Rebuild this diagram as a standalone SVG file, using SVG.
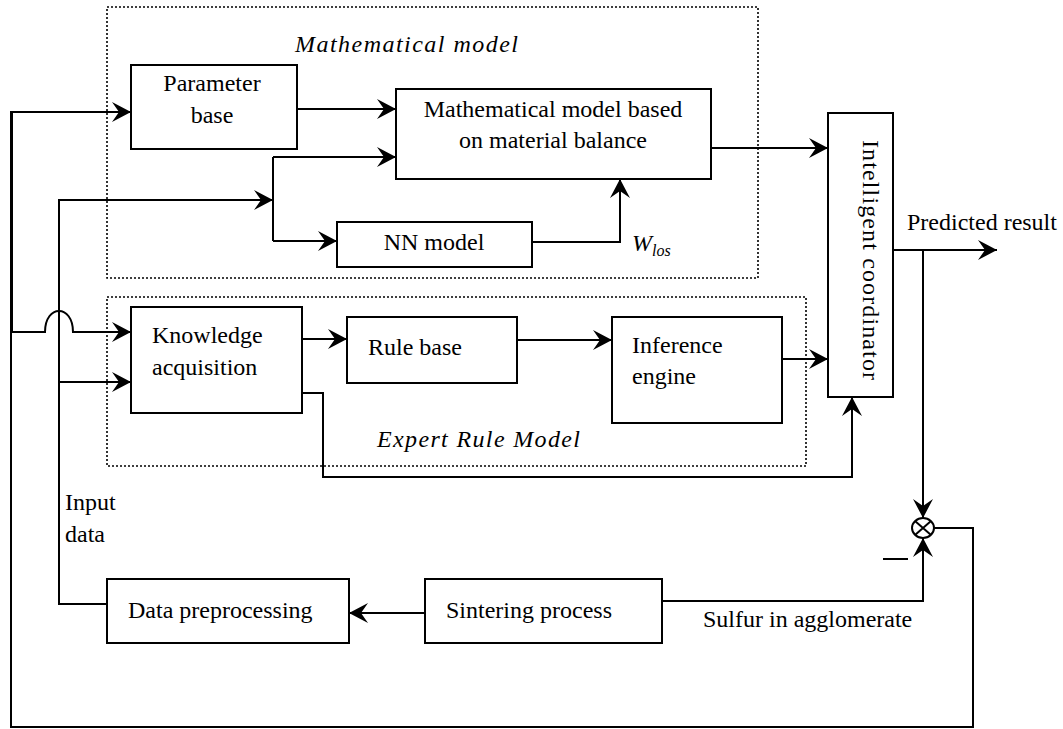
<svg xmlns="http://www.w3.org/2000/svg" width="1063" height="729" viewBox="0 0 1063 729">
<style>
.box{fill:#fff;stroke:#000;stroke-width:2}
.grp{fill:none;stroke:#000;stroke-width:1.6;stroke-dasharray:2 2}
.ln{fill:none;stroke:#000;stroke-width:2}
.arr{fill:none;stroke:#000;stroke-width:2;marker-end:url(#ah)}
text{font-family:"Liberation Serif","Times New Roman",serif;font-size:24px;fill:#000}
.it{font-style:italic}
.c{text-anchor:middle}
</style>
<defs>
<marker id="ah" markerUnits="userSpaceOnUse" markerWidth="22" markerHeight="22" viewBox="-20 -11 22 22" refX="0" refY="0" orient="auto">
<path d="M0,0 L-19,-10 L-12,0 L-19,10 Z" fill="#000"/>
</marker>
</defs>
<rect width="1063" height="729" fill="#fff"/>

<g id="group-math">
<rect class="grp" x="107" y="7" width="651" height="271"/>
<text class="it" x="295" y="52" textLength="223" lengthAdjust="spacing">Mathematical model</text>
</g>
<g id="group-expert">
<rect class="grp" x="107" y="297" width="699" height="169"/>
<text class="it" x="377" y="447" textLength="203" lengthAdjust="spacing">Expert Rule Model</text>
</g>

<g id="connectors">
<!-- outer feedback loop into parameter base -->
<path class="arr" d="M933,528 H973 V727 H11 V112 H131"/>
<path class="ln" d="M12,112 V332"/>
<!-- hop into knowledge acquisition -->
<path class="arr" d="M12,332 H45 C45,304 73,304 73,332 H131"/>
<!-- input data line -->
<path class="arr" d="M107,604 H59 V200 H273"/>
<path class="arr" d="M59,382 H131"/>
<!-- param to math -->
<path class="arr" d="M297,109 H396"/>
<path class="arr" d="M273,157 H396"/>
<path class="ln" d="M273,157 V241"/>
<path class="arr" d="M273,241 H337"/>
<!-- NN to math -->
<path class="arr" d="M532,242 H620 V179"/>
<!-- math to IC -->
<path class="arr" d="M711,148 H828"/>
<!-- expert chain -->
<path class="arr" d="M302,339 H347"/>
<path class="arr" d="M517,340 H612"/>
<path class="arr" d="M782,359 H828"/>
<path class="arr" d="M302,393 H323 V477 H852 V397"/>
<!-- predicted result -->
<path class="arr" d="M893,250 H997"/>
<path class="arr" d="M923,250 V518"/>
<!-- sintering -->
<path class="arr" d="M425,613 H349"/>
<path class="arr" d="M662,601 H923 V538"/>
<path class="ln" d="M883,559 H908"/>
</g>

<g id="node-param">
<rect class="box" x="131" y="65" width="166" height="84"/>
<text class="c" x="212" y="91">Parameter</text>
<text class="c" x="212" y="123">base</text>
</g>
<g id="node-mathmodel">
<rect class="box" x="396" y="89" width="315" height="90"/>
<text class="c" x="553" y="117">Mathematical model based</text>
<text class="c" x="553" y="148">on material balance</text>
</g>
<g id="node-nn">
<rect class="box" x="337" y="222" width="195" height="45"/>
<text class="c" x="434" y="250">NN model</text>
</g>
<g id="label-wlos">
<text class="it" x="632" y="251">W<tspan font-size="16" dy="5">los</tspan></text>
</g>
<g id="node-ka">
<rect class="box" x="131" y="307" width="171" height="106"/>
<text x="152" y="343">Knowledge</text>
<text x="152" y="375">acquisition</text>
</g>
<g id="node-rule">
<rect class="box" x="347" y="317" width="170" height="66"/>
<text x="368" y="355">Rule base</text>
</g>
<g id="node-inference">
<rect class="box" x="612" y="317" width="170" height="106"/>
<text x="632" y="353">Inference</text>
<text x="632" y="384">engine</text>
</g>
<g id="node-ic">
<rect class="box" x="828" y="113" width="65" height="284"/>
<text transform="translate(863,140) rotate(90)" textLength="240" lengthAdjust="spacing">Intelligent coordinator</text>
</g>
<g id="label-predicted">
<text x="907" y="230">Predicted result</text>
</g>
<g id="node-sum">
<ellipse cx="923" cy="528" rx="11" ry="10" fill="#fff" stroke="#000" stroke-width="2"/>
<path class="ln" d="M915,521 L931,535 M931,521 L915,535"/>
</g>
<g id="label-input">
<text x="65" y="510">Input</text>
<text x="65" y="542">data</text>
</g>
<g id="node-dataprep">
<rect class="box" x="107" y="579" width="242" height="64"/>
<text x="128" y="618">Data preprocessing</text>
</g>
<g id="node-sinter">
<rect class="box" x="425" y="579" width="237" height="64"/>
<text x="446" y="618">Sintering process</text>
</g>
<g id="label-sulfur">
<text x="703" y="627">Sulfur in agglomerate</text>
</g>
</svg>
